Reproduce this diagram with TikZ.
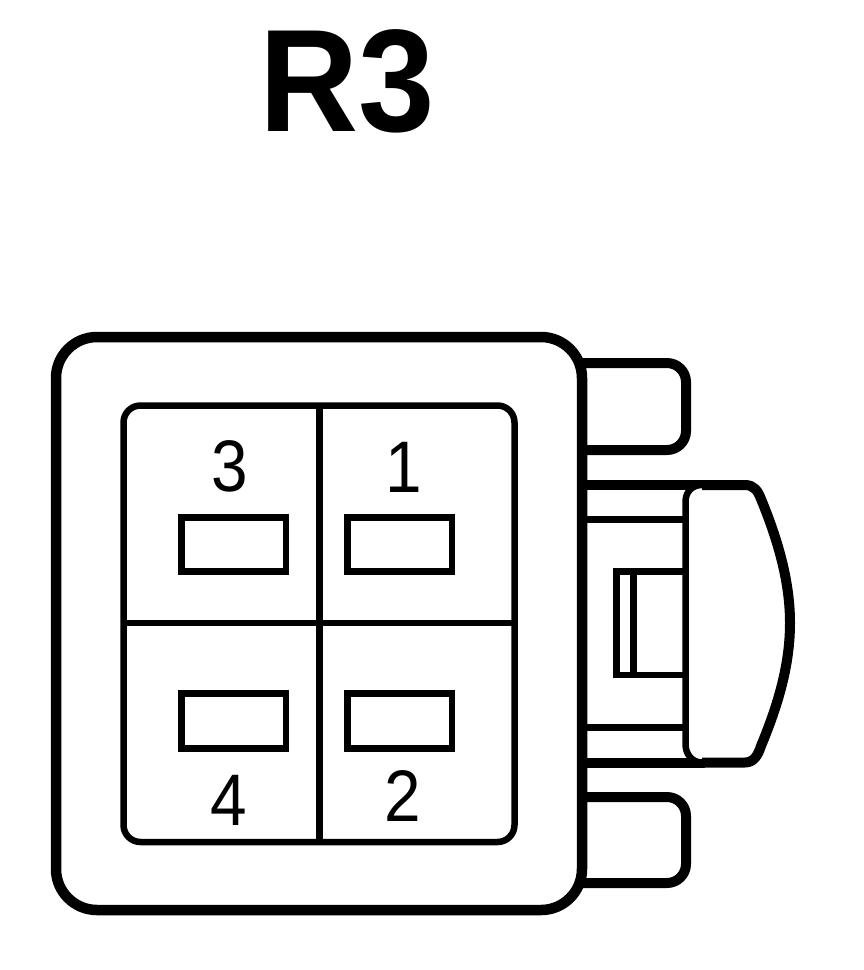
\documentclass[tikz,border=0pt]{standalone}
\usepackage{fontspec}
\setmainfont{Liberation Sans}
\newfontfamily\narrowlab[FakeStretch=0.9]{Liberation Sans}
\newfontfamily\narrowtitle[FakeStretch=0.94]{Liberation Sans}
\tikzset{px/.style={x=1pt,y=-1pt},
 heavy/.style={line width=10pt,line join=round},
 tabshape/.style={line width=10pt,line join=round,rounded corners=19pt},
 fine/.style={line width=6.5pt,line join=miter},
 pin/.style={line width=6.5pt,fill=white},
 lab/.style={font=\narrowlab\fontsize{73}{73}\selectfont,inner sep=0pt,anchor=center}}
\begin{document}
\begin{tikzpicture}[px]
\useasboundingbox (0,0) rectangle (864,970);
% upper and lower tabs
\draw[tabshape] (575,363) -- (686,363) -- (686,450) -- (575,450);
\draw[tabshape] (575,797) -- (686,797) -- (686,883) -- (575,883);
% outer rails
\draw[heavy] (582,485) -- (705,485);
\draw[heavy] (582,762.5) -- (705,762.5);
% knob
\fill[white] (702,485) -- (745,485) .. controls (754,485) and (758,491) .. (761,499) .. controls (780,545) and (790,585) .. (790,623) .. controls (790,665) and (778,705) .. (761,746) .. controls (758,755) and (754,762.5) .. (745,762.5) -- (702,762.5) .. controls (692,762.5) and (685.5,754) .. (685.5,744) -- (685.5,502) .. controls (685.5,492) and (692,485) .. (702,485) -- cycle;
\draw[line width=10pt,line join=round,line cap=butt] (702,485) -- (745,485) .. controls (754,485) and (758,491) .. (761,499) .. controls (780,545) and (790,585) .. (790,623) .. controls (790,665) and (778,705) .. (761,746) .. controls (758,755) and (754,762.5) .. (745,762.5) -- (702,762.5);
\draw[fine] (702,485) .. controls (692,485) and (685.5,492) .. (685.5,502) -- (685.5,744) .. controls (685.5,754) and (692,762.5) .. (702,762.5);
% latch inner lines
\draw[fine] (582,519.5) -- (685.5,519.5);
\draw[fine] (582,727.5) -- (685.5,727.5);
\draw[fine] (685.5,571.5) -- (616.5,571.5) -- (616.5,675) -- (685.5,675);
\draw[fine] (633.5,571.5) -- (633.5,675);
% body
\draw[heavy,line width=10.5pt,fill=white,rounded corners=41pt] (56,337) rectangle (582,910);
% inner frame
\draw[fine,rounded corners=17pt] (123.5,405.5) rectangle (514.5,842);
\draw[fine] (319.5,405.5) -- (319.5,842);
\draw[fine] (123.5,623) -- (514.5,623);
% pins
\draw[pin] (181.5,517.5) rectangle (286,571.5);
\draw[pin] (347.5,517.5) rectangle (452,571.5);
\draw[pin] (181.5,693.5) rectangle (286,748.5);
\draw[pin] (347.5,693.5) rectangle (452,748.5);
\node[lab] (n3) at (229.5,466) {3};
\node[lab] (n1) at (404,467) {1};
\node[lab] (n4) at (229,800) {4};
\node[lab] (n2) at (402.5,796) {2};
\node[inner sep=0pt,font=\narrowtitle\fontsize{146}{146}\selectfont\bfseries] (t) at (347.5,81) {R3};
\end{tikzpicture}
\end{document}
